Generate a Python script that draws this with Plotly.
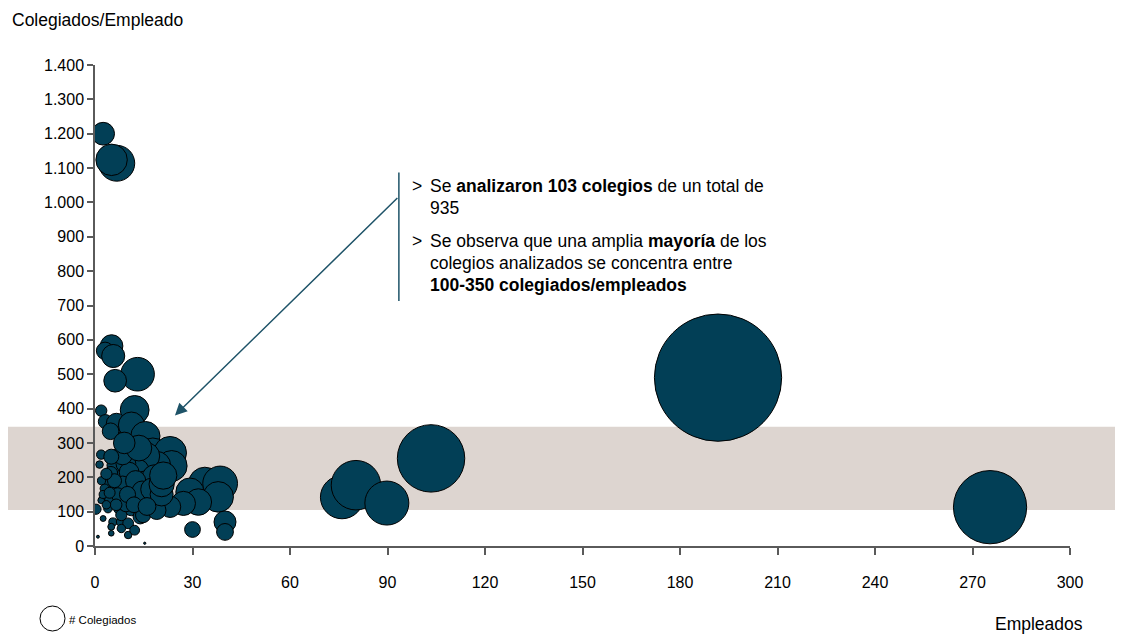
import plotly.graph_objects as go

# Empleados (x), Colegiados/Empleado (y), # Colegiados (bubble size)
empleados = [2.5, 6.7, 5.1, 5.1, 3.1, 5.6, 13.1, 6.2, 12.2, 1.9,
             3.2, 6.6, 11.2, 4.8, 15.5, 17.8, 23.1, 23.6, 19.0, 11.2,
             15.8, 7.6, 6.1, 1.9, 1.4, 5.0, 13.2, 9.1, 4.0, 3.0,
             6.6, 11.2, 15.3, 18.4, 3.0, 5.5, 8.1, 12.2, 16.8, 1.9,
             0.3, 4.5, 7.6, 10.2, 4.0, 7.6, 11.2, 13.9, 2.5, 5.5,
             8.1, 10.2, 5.0, 8.1, 5.0, 10.2, 12.2, 14.8, 0.9, 15.3,
             8.1, 15.8, 13.2, 33.8, 38.5, 29.2, 37.9, 31.8, 27.2, 23.1,
             19.0, 40.0, 40.0, 30.0, 4.9, 9.5, 10.5, 8.5, 12.5, 14.5,
             17.5, 20.5, 6.0, 7.0, 9.5, 6.5, 3.5, 2.5, 4.5, 10.0,
             12.0, 16.0, 20.5, 8.5, 13.5, 21.0, 2.0, 3.5, 5.0, 9.0,
             76.0, 80.3, 89.8, 103.4, 191.7, 275.4]
ratio = [1200, 1114, 1124, 582, 568, 553, 500, 481, 396, 394,
         362, 357, 352, 334, 320, 270, 271, 233, 235, 262,
         262, 249, 235, 266, 237, 206, 220, 201, 177, 167,
         167, 167, 186, 200, 138, 143, 138, 138, 138, 133,
         107, 133, 133, 133, 109, 109, 109, 85, 80, 70,
         70, 66, 56, 51, 37, 32, 46, 90, 27, 8,
         90, 133, 128, 182, 182, 157, 143, 128, 124, 114,
         104, 70, 41, 48, 212, 240, 215, 180, 190, 160,
         165, 150, 190, 150, 120, 120, 120, 150, 155, 150,
         120, 115, 180, 265, 285, 205, 190, 210, 260, 300,
         142, 177, 125, 255, 490, 113]
colegiados = [3000, 7464, 5732, 2968, 1761, 3097, 6550, 2982, 4831, 749,
              1158, 2356, 3942, 1603, 4960, 5400, 6260, 5499, 4465, 2934,
              4140, 1892, 1434, 505, 332, 1030, 2904, 1829, 708, 501,
              1102, 1870, 2846, 3680, 414, 787, 1118, 1684, 2318, 253,
              600, 600, 1011, 1357, 436, 828, 1221, 1180, 200, 385,
              567, 673, 280, 413, 185, 326, 561, 1332, 50, 30,
              729, 2101, 1690, 6152, 7007, 4584, 5420, 4070, 3373, 2633,
              1976, 2800, 1640, 1440, 1039, 2280, 2258, 1530, 2375, 2320,
              2888, 3075, 1140, 1050, 1140, 780, 420, 375, 698, 1500,
              1440, 1840, 3690, 2253, 3848, 4305, 380, 735, 1300, 2700,
              10792, 14213, 11225, 26367, 93933, 31120]

y_tickvals = [0, 100, 200, 300, 400, 500, 600, 700, 800, 900, 1000, 1100, 1200, 1300, 1400]
y_ticktext = ["0", "100", "200", "300", "400", "500", "600", "700", "800", "900",
              "1.000", "1.100", "1.200", "1.300", "1.400"]
x_tickvals = [0, 30, 60, 90, 120, 150, 180, 210, 240, 270, 300]

BUBBLE = "#023F56"
ARROW = "#1E5368"
BAND = "#DDD5D0"
AXIS = "#5A5A5A"
FONT = "Liberation Sans, Arial, sans-serif"

# page offset (browser body margin)
OFF = 8
W, H = 1115, 626
L, R, T, B = 87, 53, 57, 88
pw, ph = W - L - R, H - T - B

def px(xp):
    return (xp - OFF - L) / pw

def py(yp):
    return (H - B + OFF - yp) / ph

fig = go.Figure()
fig.add_trace(go.Scatter(
    x=empleados, y=ratio, mode="markers",
    marker=dict(size=colegiados, sizemode="area", sizeref=11.6,
                color=BUBBLE, line=dict(color="black", width=1), opacity=1),
    showlegend=False, hoverinfo="skip",
))

shapes = [
    dict(type="rect", xref="paper", yref="y", x0=px(0), x1=px(1130), y0=105, y1=347,
         fillcolor=BAND, line=dict(width=0), layer="below"),
    dict(type="line", xref="x", yref="y", x0=93.5, x1=93.5, y0=713, y1=1087,
         line=dict(color=ARROW, width=1.5)),
    dict(type="circle", xref="paper", yref="paper", x0=px(40), x1=px(65), y0=py(631), y1=py(606),
         line=dict(color="black", width=1), fillcolor="white"),
]

annotations = [
    dict(x=24.6, y=380, ax=93.5, ay=1017, xref="x", yref="y", axref="x", ayref="y",
         text="", showarrow=True, arrowhead=2, arrowsize=1.6, arrowwidth=1.5,
         arrowcolor=ARROW, standoff=0),
    dict(x=px(10), y=py(20), xref="paper", yref="paper", text="Colegiados/Empleado",
         showarrow=False, xanchor="left", yanchor="middle", font=dict(size=17.5)),
    dict(x=px(1085), y=py(624), xref="paper", yref="paper", text="Empleados",
         showarrow=False, xanchor="right", yanchor="middle", font=dict(size=17.5)),
    dict(x=px(67), y=py(620), xref="paper", yref="paper", text="# Colegiados",
         showarrow=False, xanchor="left", yanchor="middle", font=dict(size=11.5)),
]
lines = [
    (410, 186, ">"),
    (428, 186, "Se <b>analizaron 103 colegios</b> de un total de"),
    (428, 208, "935"),
    (410, 241, ">"),
    (428, 241, "Se observa que una amplia <b>mayoría</b> de los"),
    (428, 263, "colegios analizados se concentra entre"),
    (428, 285, "<b>100-350 colegiados/empleados</b>"),
]
for xp, yp, t in lines:
    annotations.append(dict(x=px(xp), y=py(yp), xref="paper", yref="paper", text=t,
                            showarrow=False, xanchor="left", yanchor="middle",
                            font=dict(size=17.5)))

fig.update_layout(
    width=W, height=H,
    margin=dict(l=L, r=R, t=T, b=B),
    paper_bgcolor="white", plot_bgcolor="rgba(0,0,0,0)",
    font=dict(family=FONT, color="black", size=16),
    shapes=shapes, annotations=annotations,
    xaxis=dict(range=[0, 300], tickvals=x_tickvals, showgrid=False, zeroline=False,
               showline=True, linecolor=AXIS, linewidth=1.5, ticks="outside",
               ticklen=7, tickcolor=AXIS, tickwidth=1.5, ticklabelstandoff=14,
               tickfont=dict(size=16)),
    yaxis=dict(range=[0, 1400], tickvals=y_tickvals, ticktext=y_ticktext, showgrid=False,
               zeroline=False, showline=True, linecolor=AXIS, linewidth=1.5,
               ticks="outside", ticklen=6, tickcolor=AXIS, tickwidth=1.5,
               tickfont=dict(size=16)),
)

fig.write_html("out.html")
